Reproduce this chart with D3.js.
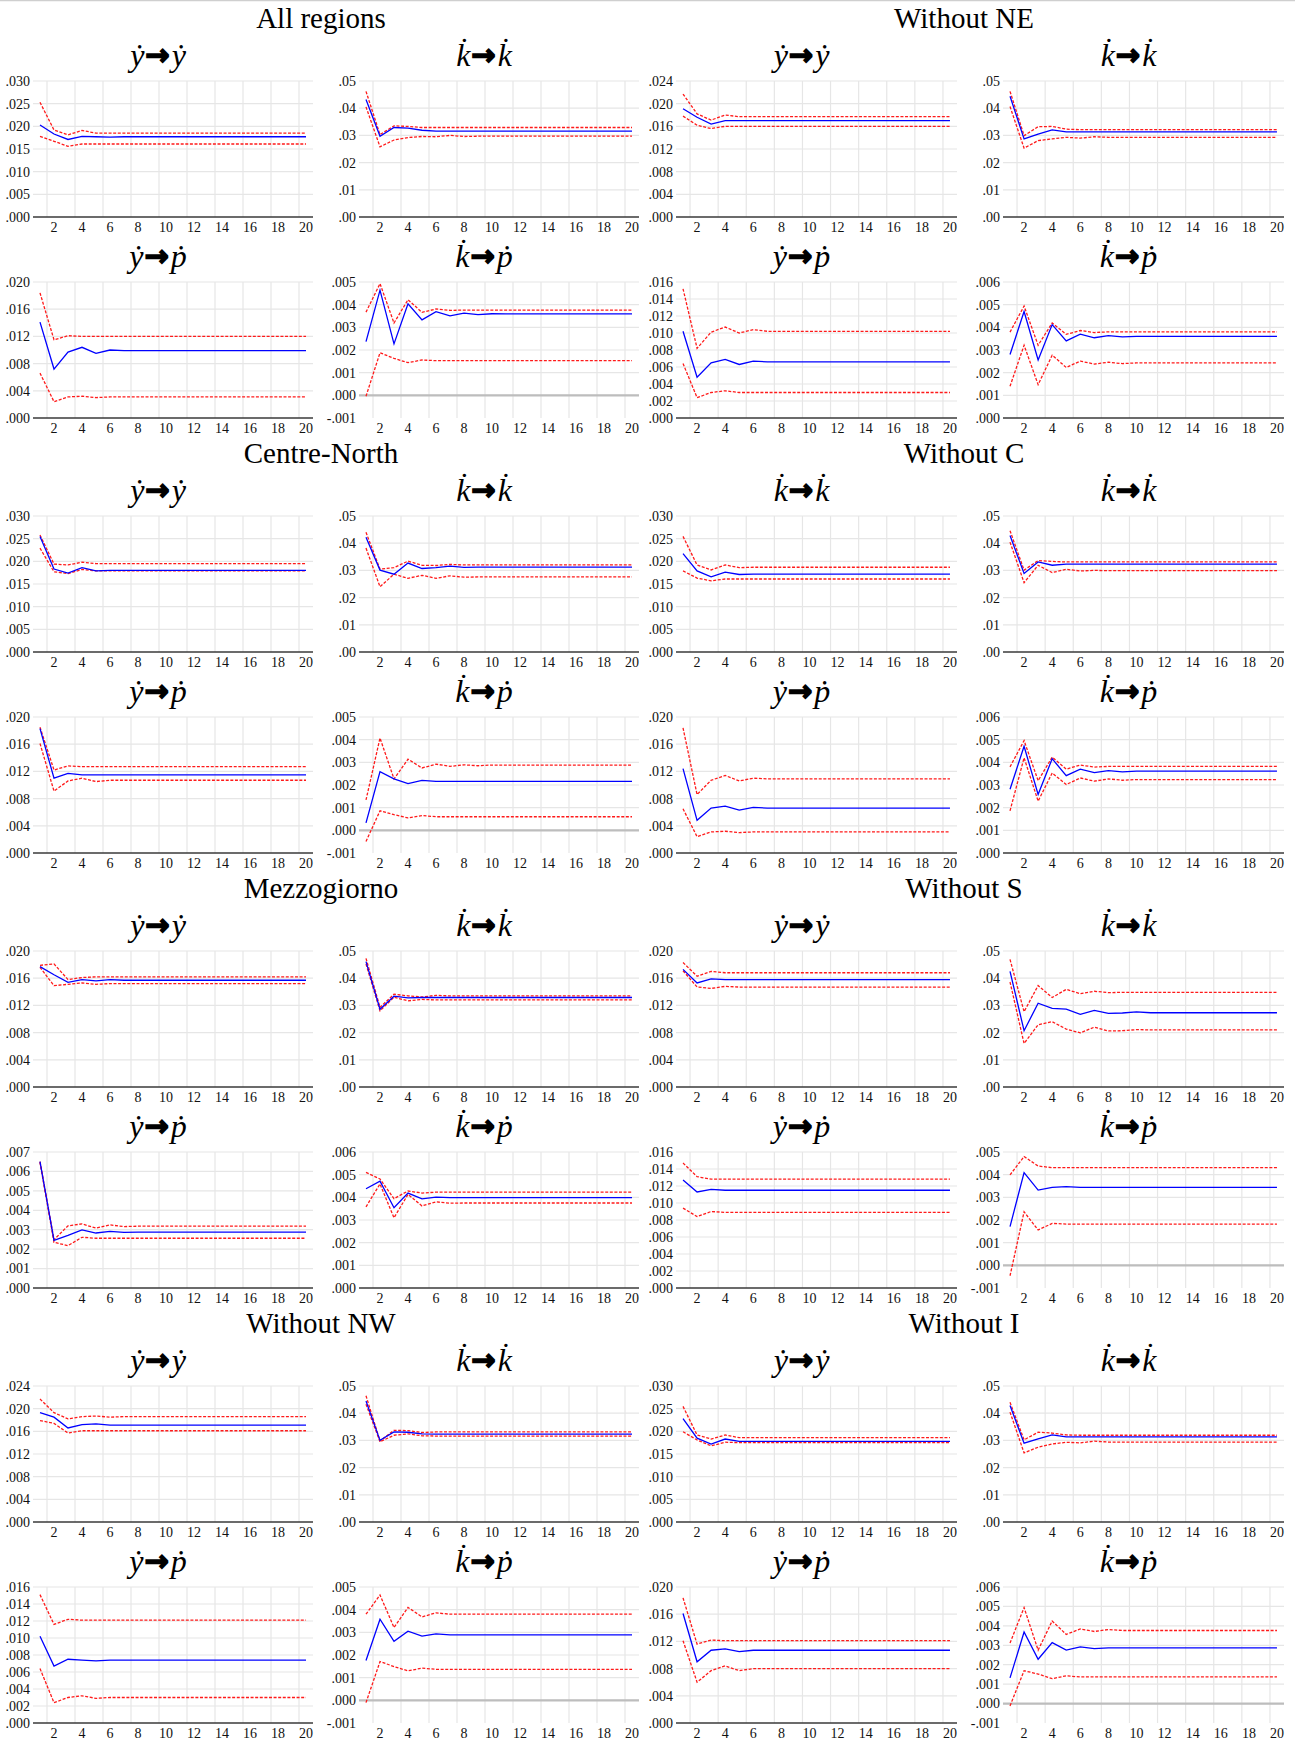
<!DOCTYPE html>
<html>
<head>
<meta charset="utf-8">
<script src="https://cdn.jsdelivr.net/npm/d3@7"></script>
<style>
  html, body { margin: 0; padding: 0; background: #fff; }
  svg { display: block; font-family: "Liberation Serif", "Times New Roman", serif; }
</style>
</head>
<body>
<svg id="chart" width="1295" height="1742"></svg>
<script>
// Impulse responses, 20 periods. Values are in thousandths (x 0.001).
const periods = [1,2,3,4,5,6,7,8,9,10,11,12,13,14,15,16,17,18,19,20];
const xTicks  = [2,4,6,8,10,12,14,16,18,20];
const xGrid   = [1.5,3.5,5.5,7.5,9.5,11.5,13.5,15.5,17.5,19.5];

const groupNames = ["All regions","Without NE","Centre-North","Without C","Mezzogiorno","Without S","Without NW","Without I"];

// y tick sets (thousandths)
const t030 = [0,5,10,15,20,25,30];
const t024 = [0,4,8,12,16,20,24];
const t020 = [0,4,8,12,16,20];
const t016 = [0,2,4,6,8,10,12,14,16];
const t007 = [0,1,2,3,4,5,6,7];
const t05  = [0,10,20,30,40,50];
const t5n  = [-1,0,1,2,3,4,5];
const t6   = [0,1,2,3,4,5,6];
const t6n  = [-1,0,1,2,3,4,5,6];

// All regions
const AR_yy_irf = [20.3,18.3,17.1,17.8,17.7,17.6,17.7,17.7,17.7,17.7,17.7,17.7,17.7,17.7,17.7,17.7,17.7,17.7,17.7,17.7];
const AR_yy_hi  = [25.3,19.2,18.1,19.1,18.5,18.5,18.5,18.5,18.5,18.5,18.5,18.5,18.5,18.5,18.5,18.5,18.5,18.5,18.5,18.5];
const AR_yy_lo  = [17.8,16.7,15.6,16.1,16.1,16.1,16.1,16.1,16.1,16.1,16.1,16.1,16.1,16.1,16.1,16.1,16.1,16.1,16.1,16.1];
const AR_kk_irf = [43.2,29.7,32.9,32.7,31.9,31.6,31.6,31.6,31.6,31.6,31.6,31.6,31.6,31.6,31.6,31.6,31.6,31.6,31.6,31.6];
const AR_kk_hi  = [46.2,30.3,33.5,33.3,32.9,32.9,32.9,32.9,32.9,32.9,32.9,32.9,32.9,32.9,32.9,32.9,32.9,32.9,32.9,32.9];
const AR_kk_lo  = [40.5,25.8,28.3,29.2,29.6,29.5,30.0,29.6,29.7,29.7,29.7,29.7,29.7,29.7,29.7,29.7,29.7,29.7,29.7,29.7];
const AR_yp_irf = [14.1,7.2,9.7,10.4,9.5,10.0,9.9,9.9,9.9,9.9,9.9,9.9,9.9,9.9,9.9,9.9,9.9,9.9,9.9,9.9];
const AR_yp_hi  = [18.4,11.5,12.1,12.0,12.0,12.0,12.0,12.0,12.0,12.0,12.0,12.0,12.0,12.0,12.0,12.0,12.0,12.0,12.0,12.0];
const AR_yp_lo  = [6.6,2.4,3.1,3.2,3.0,3.1,3.1,3.1,3.1,3.1,3.1,3.1,3.1,3.1,3.1,3.1,3.1,3.1,3.1,3.1];
const AR_kp_irf = [2.37,4.64,2.27,4.04,3.33,3.69,3.51,3.63,3.56,3.60,3.59,3.59,3.59,3.59,3.59,3.59,3.59,3.59,3.59,3.59];
const AR_kp_hi  = [3.67,4.93,3.19,4.22,3.66,3.81,3.75,3.76,3.76,3.76,3.76,3.76,3.76,3.76,3.76,3.76,3.76,3.76,3.76,3.76];
const AR_kp_lo  = [-0.04,1.88,1.63,1.44,1.56,1.53,1.53,1.53,1.53,1.53,1.53,1.53,1.53,1.53,1.53,1.53,1.53,1.53,1.53,1.53];

// Without NE
const NE_yy_irf = [19.1,17.6,16.4,17.0,17.0,17.0,17.0,17.0,17.0,17.0,17.0,17.0,17.0,17.0,17.0,17.0,17.0,17.0,17.0,17.0];
const NE_yy_hi  = [21.7,18.2,17.1,18.0,17.7,17.7,17.7,17.7,17.7,17.7,17.7,17.7,17.7,17.7,17.7,17.7,17.7,17.7,17.7,17.7];
const NE_yy_lo  = [17.8,16.2,15.6,16.0,16.0,16.0,16.0,16.0,16.0,16.0,16.0,16.0,16.0,16.0,16.0,16.0,16.0,16.0,16.0,16.0];
const NE_kk_irf = [44.4,28.7,30.5,32.0,31.3,31.3,31.3,31.3,31.3,31.3,31.3,31.3,31.3,31.3,31.3,31.3,31.3,31.3,31.3,31.3];
const NE_kk_hi  = [46.2,29.9,33.2,33.3,32.3,32.1,32.1,32.1,32.1,32.1,32.1,32.1,32.1,32.1,32.1,32.1,32.1,32.1,32.1,32.1];
const NE_kk_lo  = [40.6,25.3,28.1,28.7,29.3,29.0,29.5,29.3,29.3,29.3,29.3,29.3,29.3,29.3,29.3,29.3,29.3,29.3,29.3,29.3];
const NE_yp_irf = [10.2,4.8,6.5,6.9,6.3,6.7,6.6,6.6,6.6,6.6,6.6,6.6,6.6,6.6,6.6,6.6,6.6,6.6,6.6,6.6];
const NE_yp_hi  = [15.2,8.2,10.1,10.7,10.0,10.4,10.2,10.2,10.2,10.2,10.2,10.2,10.2,10.2,10.2,10.2,10.2,10.2,10.2,10.2];
const NE_yp_lo  = [6.4,2.4,3.0,3.2,3.0,3.0,3.0,3.0,3.0,3.0,3.0,3.0,3.0,3.0,3.0,3.0,3.0,3.0,3.0,3.0];
const NE_kp_irf = [2.80,4.70,2.56,4.12,3.40,3.70,3.54,3.63,3.58,3.60,3.60,3.60,3.60,3.60,3.60,3.60,3.60,3.60,3.60,3.60];
const NE_kp_hi  = [3.79,4.94,3.21,4.19,3.69,3.86,3.77,3.80,3.80,3.80,3.80,3.80,3.80,3.80,3.80,3.80,3.80,3.80,3.80,3.80];
const NE_kp_lo  = [1.40,3.21,1.47,2.77,2.23,2.51,2.38,2.46,2.40,2.43,2.43,2.43,2.43,2.43,2.43,2.43,2.43,2.43,2.43,2.43];

// Centre-North
const CN_yy_irf = [25.5,18.3,17.4,18.6,17.9,18.0,18.0,18.0,18.0,18.0,18.0,18.0,18.0,18.0,18.0,18.0,18.0,18.0,18.0,18.0];
const CN_yy_hi  = [25.8,19.4,19.2,19.8,19.5,19.5,19.5,19.5,19.5,19.5,19.5,19.5,19.5,19.5,19.5,19.5,19.5,19.5,19.5,19.5];
const CN_yy_lo  = [22.9,17.7,17.3,18.2,17.9,17.9,17.9,17.9,17.9,17.9,17.9,17.9,17.9,17.9,17.9,17.9,17.9,17.9,17.9,17.9];
const CN_kk_irf = [42.2,30.1,28.6,32.7,30.7,31.0,31.6,31.1,31.2,31.2,31.2,31.2,31.2,31.2,31.2,31.2,31.2,31.2,31.2,31.2];
const CN_kk_hi  = [44.0,30.5,31.0,33.4,31.9,31.8,32.2,32.0,32.0,32.0,32.0,32.0,32.0,32.0,32.0,32.0,32.0,32.0,32.0,32.0];
const CN_kk_lo  = [38.2,24.0,28.6,27.1,28.2,27.1,28.0,27.5,27.6,27.6,27.6,27.6,27.6,27.6,27.6,27.6,27.6,27.6,27.6,27.6];
const CN_yp_irf = [18.3,11.0,11.7,11.5,11.5,11.5,11.5,11.5,11.5,11.5,11.5,11.5,11.5,11.5,11.5,11.5,11.5,11.5,11.5,11.5];
const CN_yp_hi  = [18.5,12.2,12.8,12.7,12.7,12.7,12.7,12.7,12.7,12.7,12.7,12.7,12.7,12.7,12.7,12.7,12.7,12.7,12.7,12.7];
const CN_yp_lo  = [16.1,9.1,10.6,11.0,10.5,10.7,10.7,10.7,10.7,10.7,10.7,10.7,10.7,10.7,10.7,10.7,10.7,10.7,10.7,10.7];
const CN_kp_irf = [0.33,2.59,2.27,2.06,2.20,2.16,2.16,2.16,2.16,2.16,2.16,2.16,2.16,2.16,2.16,2.16,2.16,2.16,2.16,2.16];
const CN_kp_hi  = [1.34,4.07,2.27,3.14,2.75,2.92,2.82,2.89,2.85,2.88,2.88,2.88,2.88,2.88,2.88,2.88,2.88,2.88,2.88,2.88];
const CN_kp_lo  = [-0.49,0.86,0.69,0.55,0.65,0.60,0.60,0.60,0.60,0.60,0.60,0.60,0.60,0.60,0.60,0.60,0.60,0.60,0.60,0.60];

// Without C
const C_yy_irf = [21.7,17.9,16.6,17.6,17.1,17.2,17.2,17.2,17.2,17.2,17.2,17.2,17.2,17.2,17.2,17.2,17.2,17.2,17.2,17.2];
const C_yy_hi  = [25.5,19.2,18.1,19.2,18.6,18.7,18.7,18.7,18.7,18.7,18.7,18.7,18.7,18.7,18.7,18.7,18.7,18.7,18.7,18.7];
const C_yy_lo  = [17.9,16.3,15.7,16.1,16.1,16.1,16.1,16.1,16.1,16.1,16.1,16.1,16.1,16.1,16.1,16.1,16.1,16.1,16.1,16.1];
const C_kk_irf = [42.8,28.9,33.1,31.9,32.3,32.3,32.3,32.3,32.3,32.3,32.3,32.3,32.3,32.3,32.3,32.3,32.3,32.3,32.3,32.3];
const C_kk_hi  = [44.6,30.1,33.6,33.3,33.1,33.1,33.1,33.1,33.1,33.1,33.1,33.1,33.1,33.1,33.1,33.1,33.1,33.1,33.1,33.1];
const C_kk_lo  = [40.4,25.5,31.9,29.2,30.4,29.8,30.0,29.9,29.9,29.9,29.9,29.9,29.9,29.9,29.9,29.9,29.9,29.9,29.9,29.9];
const C_yp_irf = [12.4,4.8,6.6,6.9,6.3,6.7,6.6,6.6,6.6,6.6,6.6,6.6,6.6,6.6,6.6,6.6,6.6,6.6,6.6,6.6];
const C_yp_hi  = [18.4,8.6,10.7,11.4,10.6,11.0,10.9,10.9,10.9,10.9,10.9,10.9,10.9,10.9,10.9,10.9,10.9,10.9,10.9,10.9];
const C_yp_lo  = [6.5,2.4,3.1,3.2,3.0,3.1,3.1,3.1,3.1,3.1,3.1,3.1,3.1,3.1,3.1,3.1,3.1,3.1,3.1,3.1];
const C_kp_irf = [2.81,4.71,2.58,4.16,3.41,3.70,3.55,3.63,3.58,3.61,3.61,3.61,3.61,3.61,3.61,3.61,3.61,3.61,3.61,3.61];
const C_kp_hi  = [3.80,4.96,3.19,4.23,3.70,3.88,3.79,3.82,3.82,3.82,3.82,3.82,3.82,3.82,3.82,3.82,3.82,3.82,3.82,3.82];
const C_kp_lo  = [1.86,4.20,2.29,3.53,3.02,3.31,3.17,3.27,3.21,3.24,3.24,3.24,3.24,3.24,3.24,3.24,3.24,3.24,3.24,3.24];

// Mezzogiorno
const MZ_yy_irf = [17.7,16.5,15.4,15.8,15.6,15.8,15.7,15.7,15.7,15.7,15.7,15.7,15.7,15.7,15.7,15.7,15.7,15.7,15.7,15.7];
const MZ_yy_hi  = [17.9,18.1,15.8,16.1,16.2,16.2,16.2,16.2,16.2,16.2,16.2,16.2,16.2,16.2,16.2,16.2,16.2,16.2,16.2,16.2];
const MZ_yy_lo  = [17.6,14.9,15.1,15.3,15.1,15.2,15.2,15.2,15.2,15.2,15.2,15.2,15.2,15.2,15.2,15.2,15.2,15.2,15.2,15.2];
const MZ_kk_irf = [46.1,28.6,33.4,32.8,32.9,32.9,32.9,32.9,32.9,32.9,32.9,32.9,32.9,32.9,32.9,32.9,32.9,32.9,32.9,32.9];
const MZ_kk_hi  = [47.3,29.3,34.1,33.5,33.1,33.7,33.5,33.5,33.5,33.5,33.5,33.5,33.5,33.5,33.5,33.5,33.5,33.5,33.5,33.5];
const MZ_kk_lo  = [45.2,28.0,33.0,31.7,32.2,32.0,32.0,32.0,32.0,32.0,32.0,32.0,32.0,32.0,32.0,32.0,32.0,32.0,32.0,32.0];
const MZ_yp_irf = [6.50,2.45,2.71,2.99,2.83,2.91,2.86,2.88,2.88,2.88,2.88,2.88,2.88,2.88,2.88,2.88,2.88,2.88,2.88,2.88];
const MZ_yp_hi  = [6.51,2.49,3.20,3.30,3.08,3.25,3.16,3.18,3.18,3.18,3.18,3.18,3.18,3.18,3.18,3.18,3.18,3.18,3.18,3.18];
const MZ_yp_lo  = [6.46,2.35,2.18,2.61,2.56,2.56,2.56,2.56,2.56,2.56,2.56,2.56,2.56,2.56,2.56,2.56,2.56,2.56,2.56,2.56];
const MZ_kp_irf = [4.38,4.71,3.54,4.19,3.93,4.01,3.99,3.99,3.99,3.99,3.99,3.99,3.99,3.99,3.99,3.99,3.99,3.99,3.99,3.99];
const MZ_kp_hi  = [5.10,4.81,3.94,4.28,4.19,4.23,4.23,4.23,4.23,4.23,4.23,4.23,4.23,4.23,4.23,4.23,4.23,4.23,4.23,4.23];
const MZ_kp_lo  = [3.58,4.59,3.10,4.13,3.62,3.80,3.74,3.75,3.75,3.75,3.75,3.75,3.75,3.75,3.75,3.75,3.75,3.75,3.75,3.75];

// Without S
const S_yy_irf = [17.3,15.3,15.9,15.8,15.8,15.8,15.8,15.8,15.8,15.8,15.8,15.8,15.8,15.8,15.8,15.8,15.8,15.8,15.8,15.8];
const S_yy_hi  = [18.3,16.3,17.0,16.8,16.8,16.8,16.8,16.8,16.8,16.8,16.8,16.8,16.8,16.8,16.8,16.8,16.8,16.8,16.8,16.8];
const S_yy_lo  = [17.1,14.7,14.5,14.8,14.7,14.7,14.7,14.7,14.7,14.7,14.7,14.7,14.7,14.7,14.7,14.7,14.7,14.7,14.7,14.7];
const S_kk_irf = [42.5,20.7,30.8,28.9,28.6,26.7,28.2,27.1,27.2,27.6,27.3,27.3,27.3,27.3,27.3,27.3,27.3,27.3,27.3,27.3];
const S_kk_hi  = [46.9,27.7,37.3,32.9,35.9,34.3,35.2,34.7,34.8,34.8,34.8,34.8,34.8,34.8,34.8,34.8,34.8,34.8,34.8,34.8];
const S_kk_lo  = [38.6,16.0,22.9,24.0,21.3,19.9,22.0,20.6,20.7,21.1,21.0,21.0,21.0,21.0,21.0,21.0,21.0,21.0,21.0,21.0];
const S_yp_irf = [12.7,11.3,11.6,11.5,11.5,11.5,11.5,11.5,11.5,11.5,11.5,11.5,11.5,11.5,11.5,11.5,11.5,11.5,11.5,11.5];
const S_yp_hi  = [14.7,13.1,12.8,12.8,12.8,12.8,12.8,12.8,12.8,12.8,12.8,12.8,12.8,12.8,12.8,12.8,12.8,12.8,12.8,12.8];
const S_yp_lo  = [9.4,8.4,9.0,8.9,8.9,8.9,8.9,8.9,8.9,8.9,8.9,8.9,8.9,8.9,8.9,8.9,8.9,8.9,8.9,8.9];
const S_kp_irf = [1.71,4.09,3.32,3.44,3.47,3.44,3.44,3.44,3.44,3.44,3.44,3.44,3.44,3.44,3.44,3.44,3.44,3.44,3.44,3.44];
const S_kp_hi  = [3.99,4.80,4.38,4.31,4.31,4.31,4.31,4.31,4.31,4.31,4.31,4.31,4.31,4.31,4.31,4.31,4.31,4.31,4.31,4.31];
const S_kp_lo  = [-0.46,2.36,1.56,1.85,1.82,1.82,1.82,1.82,1.82,1.82,1.82,1.82,1.82,1.82,1.82,1.82,1.82,1.82,1.82,1.82];

// Without NW
const NW_yy_irf = [19.3,18.5,16.6,17.2,17.3,17.1,17.1,17.1,17.1,17.1,17.1,17.1,17.1,17.1,17.1,17.1,17.1,17.1,17.1,17.1];
const NW_yy_hi  = [21.7,19.3,18.2,18.6,18.7,18.5,18.6,18.6,18.6,18.6,18.6,18.6,18.6,18.6,18.6,18.6,18.6,18.6,18.6,18.6];
const NW_yy_lo  = [17.9,17.4,15.7,16.1,16.1,16.1,16.1,16.1,16.1,16.1,16.1,16.1,16.1,16.1,16.1,16.1,16.1,16.1,16.1,16.1];
const NW_kk_irf = [44.5,30.0,33.1,33.0,32.4,32.3,32.3,32.3,32.3,32.3,32.3,32.3,32.3,32.3,32.3,32.3,32.3,32.3,32.3,32.3];
const NW_kk_hi  = [46.4,29.8,33.7,33.6,32.9,33.1,33.1,33.1,33.1,33.1,33.1,33.1,33.1,33.1,33.1,33.1,33.1,33.1,33.1,33.1];
const NW_kk_lo  = [43.3,29.5,31.9,32.4,31.7,31.6,31.6,31.6,31.6,31.6,31.6,31.6,31.6,31.6,31.6,31.6,31.6,31.6,31.6,31.6];
const NW_yp_irf = [10.2,6.7,7.5,7.4,7.3,7.4,7.4,7.4,7.4,7.4,7.4,7.4,7.4,7.4,7.4,7.4,7.4,7.4,7.4,7.4];
const NW_yp_hi  = [15.1,11.6,12.2,12.1,12.1,12.1,12.1,12.1,12.1,12.1,12.1,12.1,12.1,12.1,12.1,12.1,12.1,12.1,12.1,12.1];
const NW_yp_lo  = [6.4,2.4,3.0,3.2,2.9,3.0,3.0,3.0,3.0,3.0,3.0,3.0,3.0,3.0,3.0,3.0,3.0,3.0,3.0,3.0];
const NW_kp_irf = [1.76,3.58,2.60,3.05,2.83,2.93,2.89,2.89,2.89,2.89,2.89,2.89,2.89,2.89,2.89,2.89,2.89,2.89,2.89,2.89];
const NW_kp_hi  = [3.80,4.65,3.21,4.10,3.68,3.86,3.80,3.80,3.80,3.80,3.80,3.80,3.80,3.80,3.80,3.80,3.80,3.80,3.80,3.80];
const NW_kp_lo  = [-0.10,1.71,1.49,1.30,1.42,1.37,1.37,1.37,1.37,1.37,1.37,1.37,1.37,1.37,1.37,1.37,1.37,1.37,1.37,1.37];

// Without I
const I_yy_irf = [22.8,18.5,17.2,18.3,17.8,17.8,17.8,17.8,17.8,17.8,17.8,17.8,17.8,17.8,17.8,17.8,17.8,17.8,17.8,17.8];
const I_yy_hi  = [25.5,19.2,18.3,19.2,18.6,18.6,18.6,18.6,18.6,18.6,18.6,18.6,18.6,18.6,18.6,18.6,18.6,18.6,18.6,18.6];
const I_yy_lo  = [19.9,18.1,16.8,17.6,17.5,17.5,17.5,17.5,17.5,17.5,17.5,17.5,17.5,17.5,17.5,17.5,17.5,17.5,17.5,17.5];
const I_kk_irf = [42.8,29.0,30.6,32.0,31.3,31.3,31.3,31.3,31.3,31.3,31.3,31.3,31.3,31.3,31.3,31.3,31.3,31.3,31.3,31.3];
const I_kk_hi  = [44.0,30.2,33.0,32.7,32.0,31.9,31.9,31.9,31.9,31.9,31.9,31.9,31.9,31.9,31.9,31.9,31.9,31.9,31.9,31.9];
const I_kk_lo  = [40.4,25.4,27.5,28.7,29.3,29.1,29.7,29.4,29.4,29.4,29.4,29.4,29.4,29.4,29.4,29.4,29.4,29.4,29.4,29.4];
const I_yp_irf = [16.1,9.0,10.7,10.9,10.5,10.7,10.7,10.7,10.7,10.7,10.7,10.7,10.7,10.7,10.7,10.7,10.7,10.7,10.7,10.7];
const I_yp_hi  = [18.4,11.6,12.2,12.1,12.1,12.1,12.1,12.1,12.1,12.1,12.1,12.1,12.1,12.1,12.1,12.1,12.1,12.1,12.1,12.1];
const I_yp_lo  = [12.1,6.0,7.7,8.4,7.7,8.0,8.0,8.0,8.0,8.0,8.0,8.0,8.0,8.0,8.0,8.0,8.0,8.0,8.0,8.0];
const I_kp_irf = [1.32,3.68,2.28,3.14,2.75,2.92,2.83,2.87,2.87,2.87,2.87,2.87,2.87,2.87,2.87,2.87,2.87,2.87,2.87,2.87];
const I_kp_hi  = [3.12,4.94,2.75,4.25,3.56,3.84,3.71,3.81,3.76,3.76,3.76,3.76,3.76,3.76,3.76,3.76,3.76,3.76,3.76,3.76];
const I_kp_lo  = [-0.12,1.69,1.52,1.28,1.43,1.37,1.37,1.37,1.37,1.37,1.37,1.37,1.37,1.37,1.37,1.37,1.37,1.37,1.37,1.37];

// panel titles: [shock, response]
const Y = "\u1E8F", K = "k\u0307", P = "\u1E57";
const titlesStd = [[Y,Y],[K,K],[Y,P],[K,P]];
const titlesC   = [[K,K],[K,K],[Y,P],[K,P]];

// group table: name, panel titles, y ticks, [irf, lo, hi] per panel
const groups = [
  { name: groupNames[0], titles: titlesStd, ticks: [t030,t05,t020,t5n],
    s: [[AR_yy_irf,AR_yy_lo,AR_yy_hi],[AR_kk_irf,AR_kk_lo,AR_kk_hi],[AR_yp_irf,AR_yp_lo,AR_yp_hi],[AR_kp_irf,AR_kp_lo,AR_kp_hi]] },
  { name: groupNames[1], titles: titlesStd, ticks: [t024,t05,t016,t6],
    s: [[NE_yy_irf,NE_yy_lo,NE_yy_hi],[NE_kk_irf,NE_kk_lo,NE_kk_hi],[NE_yp_irf,NE_yp_lo,NE_yp_hi],[NE_kp_irf,NE_kp_lo,NE_kp_hi]] },
  { name: groupNames[2], titles: titlesStd, ticks: [t030,t05,t020,t5n],
    s: [[CN_yy_irf,CN_yy_lo,CN_yy_hi],[CN_kk_irf,CN_kk_lo,CN_kk_hi],[CN_yp_irf,CN_yp_lo,CN_yp_hi],[CN_kp_irf,CN_kp_lo,CN_kp_hi]] },
  { name: groupNames[3], titles: titlesC, ticks: [t030,t05,t020,t6],
    s: [[C_yy_irf,C_yy_lo,C_yy_hi],[C_kk_irf,C_kk_lo,C_kk_hi],[C_yp_irf,C_yp_lo,C_yp_hi],[C_kp_irf,C_kp_lo,C_kp_hi]] },
  { name: groupNames[4], titles: titlesStd, ticks: [t020,t05,t007,t6],
    s: [[MZ_yy_irf,MZ_yy_lo,MZ_yy_hi],[MZ_kk_irf,MZ_kk_lo,MZ_kk_hi],[MZ_yp_irf,MZ_yp_lo,MZ_yp_hi],[MZ_kp_irf,MZ_kp_lo,MZ_kp_hi]] },
  { name: groupNames[5], titles: titlesStd, ticks: [t020,t05,t016,t5n],
    s: [[S_yy_irf,S_yy_lo,S_yy_hi],[S_kk_irf,S_kk_lo,S_kk_hi],[S_yp_irf,S_yp_lo,S_yp_hi],[S_kp_irf,S_kp_lo,S_kp_hi]] },
  { name: groupNames[6], titles: titlesStd, ticks: [t024,t05,t016,t5n],
    s: [[NW_yy_irf,NW_yy_lo,NW_yy_hi],[NW_kk_irf,NW_kk_lo,NW_kk_hi],[NW_yp_irf,NW_yp_lo,NW_yp_hi],[NW_kp_irf,NW_kp_lo,NW_kp_hi]] },
  { name: groupNames[7], titles: titlesStd, ticks: [t030,t05,t020,t6n],
    s: [[I_yy_irf,I_yy_lo,I_yy_hi],[I_kk_irf,I_kk_lo,I_kk_hi],[I_yp_irf,I_yp_lo,I_yp_hi],[I_kp_irf,I_kp_lo,I_kp_hi]] }
];

// layout
const COL_PLOTS = [[[33,313],[359,639]], [[676,957],[1003,1284]]];
const COL_TITLE_X = [321, 964];
const GROUP_TOP = [0, 435, 870, 1305];
const ROW_TOP = [81, 282];
const PLOT_H = 136;

const svg = d3.select("#chart");
svg.append("line").attr("x1",0).attr("x2",1295).attr("y1",0.5).attr("y2",0.5)
  .attr("stroke","#cfcfcf").attr("stroke-width",1.5);

function fmt(v, dec) {
  return (v / 1000).toFixed(dec).replace(/^(-?)0\./, "$1.");
}

groups.forEach((grp, gi) => {
  const col = gi % 2, row = Math.floor(gi / 2);
  const top = GROUP_TOP[row];

  svg.append("text")
    .attr("x", COL_TITLE_X[col]).attr("y", top + 28)
    .attr("text-anchor","middle").attr("font-size", 29).attr("fill","#000")
    .text(grp.name);

  grp.s.forEach((ser, pi) => {
    const [L, R] = COL_PLOTS[col][pi % 2];
    const T = top + ROW_TOP[Math.floor(pi / 2)];
    const B = T + PLOT_H;
    const ticks = grp.ticks[pi];
    const dec = ticks === t05 ? 2 : 3;

    const x = d3.scaleLinear().domain([0.5, 20.5]).range([L, R]);
    const y = d3.scaleLinear().domain([ticks[0], ticks[ticks.length - 1]]).range([B, T]);
    const g = svg.append("g");

    // title: shock -> response (heavy arrow)
    const [a, b] = grp.titles[pi];
    const tt = g.append("text")
      .attr("x", (L - 30 + R) / 2).attr("y", T - 15)
      .attr("text-anchor","middle").attr("fill","#000");
    tt.append("tspan").attr("font-style","italic").attr("font-size",32).text(a);
    tt.append("tspan").attr("font-family","DejaVu Sans").attr("font-weight","bold")
      .attr("font-size",29).attr("dx",1).attr("dy",-1)
      .attr("stroke","#000").attr("stroke-width",1.6).attr("stroke-linejoin","miter")
      .text("\u2192");
    tt.append("tspan").attr("font-style","italic").attr("font-size",32).attr("dx",2).attr("dy",1).text(b);

    // grid
    g.selectAll(".vg").data(xGrid).join("line")
      .attr("x1", d => x(d)).attr("x2", d => x(d)).attr("y1", T).attr("y2", B)
      .attr("stroke","#e6e6e6").attr("stroke-width",1.2);
    g.selectAll(".hg").data(ticks.slice(1)).join("line")
      .attr("x1", L).attr("x2", R).attr("y1", d => y(d)).attr("y2", d => y(d))
      .attr("stroke","#e6e6e6").attr("stroke-width",1.2);

    if (ticks[0] < 0) {
      g.append("line").attr("x1", L).attr("x2", R).attr("y1", y(0)).attr("y2", y(0))
        .attr("stroke","#bdbdbd").attr("stroke-width",2.2);
    } else {
      g.append("line").attr("x1", L).attr("x2", R).attr("y1", B).attr("y2", B)
        .attr("stroke","#3a3a3a").attr("stroke-width",1.6);
    }

    // y labels
    g.selectAll(".yl").data(ticks).join("text")
      .attr("x", L - 3).attr("y", d => y(d)).attr("dy","0.35em")
      .attr("text-anchor","end").attr("font-size",14).attr("fill","#111")
      .text(d => fmt(d, dec));
    // x labels
    g.selectAll(".xl").data(xTicks).join("text")
      .attr("x", d => x(d)).attr("y", B + 15)
      .attr("text-anchor","middle").attr("font-size",14).attr("fill","#111")
      .text(d => d);

    const line = v => d3.line().x((d, i) => x(periods[i])).y(d => y(d))(v);
    const [irf, lo, hi] = ser;
    [lo, hi].forEach(band => {
      g.append("path").attr("d", line(band)).attr("fill","none")
        .attr("stroke","#ff1a1a").attr("stroke-width",1.3).attr("stroke-dasharray","3,1.6");
    });
    g.append("path").attr("d", line(irf)).attr("fill","none")
      .attr("stroke","#0000ff").attr("stroke-width",1.3);
  });
});
</script>
</body>
</html>
